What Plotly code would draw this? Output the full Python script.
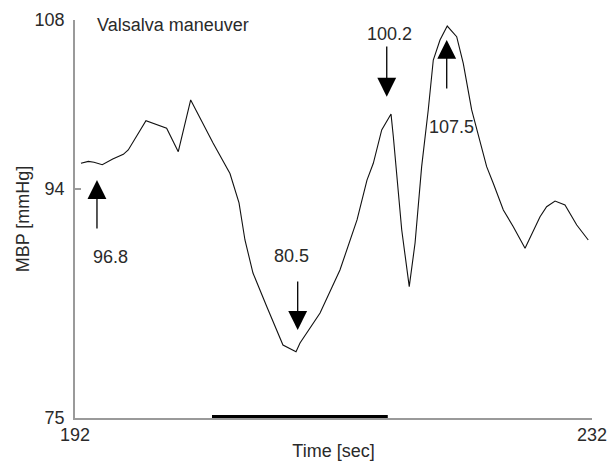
import plotly.graph_objects as go

# Mean blood pressure during a Valsalva maneuver
time_sec = [192.46, 193.03, 193.47, 194.11, 194.92, 195.74, 196.12, 197.49, 199.09, 199.99,
            200.95, 202.68, 203.99, 204.69, 205.15, 205.77, 206.85, 208.09, 209.10, 209.41,
            210.96, 212.50, 213.82, 214.59, 215.08, 215.73, 216.45, 216.63, 217.28, 217.86,
            218.31, 218.82, 219.33, 219.72, 220.24, 220.80, 221.53, 222.04, 222.69, 223.47,
            223.85, 224.36, 225.14, 225.91, 226.82, 227.98, 228.49, 229.14, 229.91, 230.82,
            231.71]
mbp_mmhg = [96.12, 96.28, 96.20, 96.00, 96.47, 96.86, 97.22, 99.65, 99.02, 97.08,
            101.37, 97.80, 95.27, 92.83, 89.76, 87.02, 84.20, 81.05, 80.5, 81.22,
            83.70, 87.27, 91.42, 94.73, 96.12, 98.88, 100.2, 98.32, 90.59, 85.89,
            89.51, 95.84, 100.54, 104.68, 106.34, 107.5, 106.62, 104.41, 100.54, 97.22,
            95.84, 94.46, 92.25, 90.86, 89.07, 91.69, 92.52, 92.99, 92.66, 91.00,
            89.76]

# Strain period of the maneuver (start, end) in seconds
maneuver_span = [202.6, 216.2]

x_ticks = [192, 232]
y_ticks = [75, 94, 108]
x_range = [192, 232]
y_range = [75, 108]

# Arrow markers: label, arrow x, arrow tip, arrow tail, label x, label y
arrow_labels = ["96.8", "80.5", "100.2", "107.5"]
arrow_x = [193.70, 209.23, 216.12, 220.76]
arrow_tip = [94.73, 82.30, 101.64, 106.34]
arrow_tail = [90.59, 86.44, 105.93, 102.20]
label_x = [194.71, 208.75, 216.37, 221.13]
label_y = [88.35, 88.47, 106.84, 99.17]

FONT = "Liberation Sans, Arial, sans-serif"
TEXT_COLOR = "#2a2a2a"
AXIS_COLOR = "#9a9a9a"

fig = go.Figure()

fig.add_trace(go.Scatter(
    x=time_sec, y=mbp_mmhg, mode="lines",
    line=dict(color="#111111", width=1.1),
    hoverinfo="skip", showlegend=False,
))

fig.add_trace(go.Scatter(
    x=maneuver_span, y=[y_range[0], y_range[0]], mode="lines",
    line=dict(color="black", width=6),
    cliponaxis=False, hoverinfo="skip", showlegend=False,
))

annotations = []
for lab, ax_, tip, tail, lx, ly in zip(arrow_labels, arrow_x, arrow_tip, arrow_tail, label_x, label_y):
    annotations.append(dict(
        x=ax_, y=tip, ax=ax_, ay=tail, xref="x", yref="y", axref="x", ayref="y",
        text="", showarrow=True, arrowhead=2, arrowsize=2.9, arrowwidth=1.3,
        arrowcolor="black", standoff=0, startstandoff=0,
    ))
    annotations.append(dict(
        x=lx, y=ly, xref="x", yref="y", text=lab, showarrow=False,
        font=dict(family=FONT, size=18, color=TEXT_COLOR),
        xanchor="center", yanchor="middle",
    ))

annotations.append(dict(
    x=193.55, y=107.6, xref="x", yref="y", text="Valsalva maneuver",
    showarrow=False, xanchor="left", yanchor="middle",
    font=dict(family=FONT, size=18, color=TEXT_COLOR),
))

fig.update_layout(
    width=609, height=470,
    margin=dict(l=75, r=17, t=20, b=52),
    paper_bgcolor="white", plot_bgcolor="white",
    font=dict(family=FONT, size=18, color=TEXT_COLOR),
    annotations=annotations,
    showlegend=False,
)

fig.update_xaxes(
    range=x_range, tickvals=x_ticks, ticktext=[str(v) for v in x_ticks],
    showgrid=False, zeroline=False, showline=True, linecolor=AXIS_COLOR, linewidth=1.5,
    ticks="inside", ticklen=6, tickcolor=AXIS_COLOR, tickwidth=1.5,
    tickfont=dict(family=FONT, size=18, color=TEXT_COLOR), ticklabelstandoff=0,
    title=dict(text="Time [sec]", font=dict(family=FONT, size=18, color=TEXT_COLOR), standoff=0),
    layer="below traces", automargin=False,
)
fig.update_yaxes(
    range=y_range, tickvals=y_ticks, ticktext=[str(v) for v in y_ticks],
    showgrid=False, zeroline=False, showline=True, linecolor=AXIS_COLOR, linewidth=1.5,
    ticks="inside", ticklen=6, tickcolor=AXIS_COLOR, tickwidth=1.5,
    tickfont=dict(family=FONT, size=18, color=TEXT_COLOR), ticklabelstandoff=5,
    title=dict(text="MBP [mmHg]", font=dict(family=FONT, size=18, color=TEXT_COLOR), standoff=0),
    layer="below traces", automargin=False,
)

fig.write_html("out.html")
